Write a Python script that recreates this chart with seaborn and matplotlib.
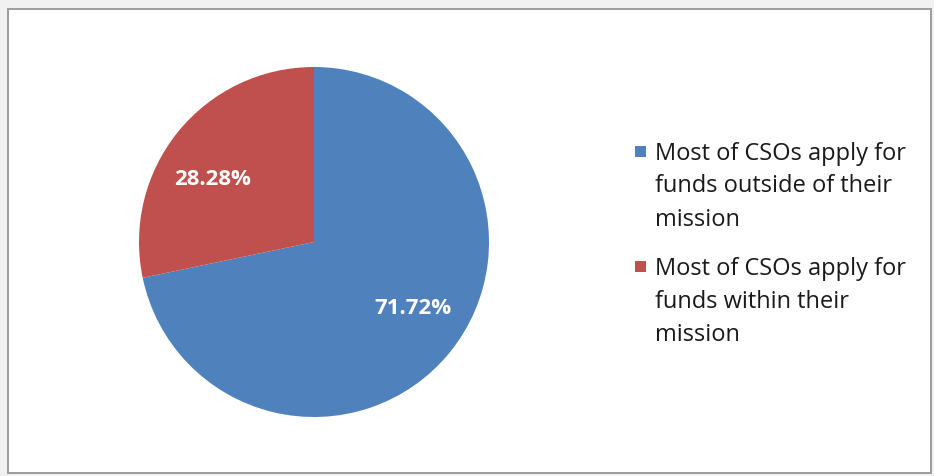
import matplotlib
matplotlib.use("Agg")
import matplotlib.pyplot as plt
import matplotlib.patches as mpatches
import seaborn as sns

# Survey shares of CSOs by funding behaviour
categories = [
    "Most of CSOs apply for\nfunds outside of their\nmission",
    "Most of CSOs apply for\nfunds within their\nmission",
]
shares = [71.72, 28.28]
colors = ["#4F81BD", "#C0504D"]

sns.set_theme(style="white")
plt.rcParams["font.family"] = ["Open Sans", "DejaVu Sans"]

W, H = 934, 477
fig = plt.figure(figsize=(W / 100, H / 100), dpi=100)
fig.patch.set_facecolor("#f1f1f1")

# chart area frame (kept behind the axes)
fig.patches.append(mpatches.Rectangle(
    (8 / W, 1 - 474 / H), (931 - 8) / W, (474 - 10) / H,
    transform=fig.transFigure, facecolor="white", edgecolor="#9c9c9c",
    linewidth=1.4, zorder=-5))

# pie axes: centre (314, 243), radius 175 px
cx, cy, r = 314, 243, 175
ax = fig.add_axes([(cx - r) / W, 1 - (cy + r) / H, 2 * r / W, 2 * r / H])
ax.set_facecolor("none")
ax.set_zorder(2)

wedges, _, autotexts = ax.pie(
    shares, colors=colors, startangle=90, counterclock=False,
    autopct=lambda p: f"{p:.2f}%", pctdistance=0.68,
    wedgeprops=dict(linewidth=0, edgecolor="none"),
    textprops=dict(color="white", fontsize=16, fontweight="bold"))
ax.set_xlim(-1, 1)
ax.set_ylim(-1, 1)
ax.set_aspect("equal")
ax.axis("off")

# label placement inside each wedge
label_pos = [(0.566, -0.377), (-0.577, 0.363)]
for t, (x, y) in zip(autotexts, label_pos):
    t.set_position((x, y))
    t.set_ha("center")
    t.set_va("center")


class FirstLineSquare:
    """Square legend key aligned with the first line of a wrapped label."""

    def __init__(self, lift):
        self.lift = lift

    def legend_artist(self, legend, orig_handle, fontsize, handlebox):
        w, h = handlebox.width, handlebox.height
        x0, y0 = handlebox.xdescent, handlebox.ydescent
        s = w
        patch = mpatches.Rectangle(
            (-x0, -y0 + (h - s) / 2 + self.lift), s, s,
            facecolor=orig_handle.get_facecolor(), edgecolor="none",
            transform=handlebox.get_transform())
        handlebox.add_artist(patch)
        return patch


handles = [mpatches.Patch(facecolor=c) for c in colors]
leg = fig.legend(
    handles, categories, loc="upper left",
    bbox_to_anchor=(635 / W, 1 - 141.5 / H), bbox_transform=fig.transFigure,
    frameon=False, fontsize=17, borderpad=0, borderaxespad=0,
    handlelength=0.47, handleheight=0.7, handletextpad=0.38,
    labelspacing=1.08,
    handler_map={mpatches.Patch: FirstLineSquare(25.2)})
for t in leg.get_texts():
    t.set_linespacing(1.50)
    t.set_color("#1a1a1a")

fig.savefig("out.png", dpi=100, facecolor=fig.get_facecolor())
